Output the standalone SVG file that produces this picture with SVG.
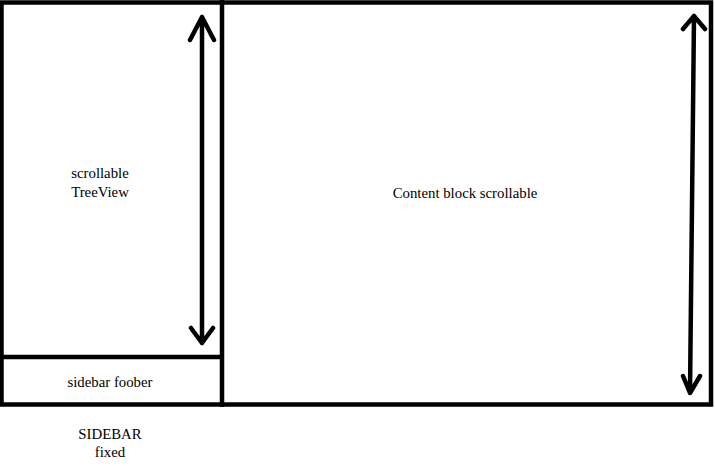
<svg xmlns="http://www.w3.org/2000/svg" width="715" height="466" viewBox="0 0 715 466">
<style>
.frame{fill:none;stroke:#000;stroke-width:4.5}
.line{stroke:#000;stroke-width:4.5;fill:none}
.arrow{stroke:#000;stroke-width:4.5;fill:none;stroke-linecap:round;stroke-linejoin:round}
text{font-family:"Liberation Serif","Times New Roman",serif;font-size:14.8px;fill:#000;text-anchor:middle}
</style>
<rect width="715" height="466" fill="#fff"/>
<g id="layout">
<rect class="frame" x="1.5" y="2.5" width="709.5" height="402"/>
</g>
<g id="sidebar">
<line class="line" x1="222" y1="0" x2="222" y2="407"/>
<text x="110" y="439">SIDEBAR</text>
<text x="110" y="457">fixed</text>
</g>
<g id="treeview">
<text x="100" y="178">scrollable</text>
<text x="100" y="197">TreeView</text>
</g>
<g id="sidebar-foober">
<line class="line" x1="0" y1="357" x2="222" y2="357"/>
<text x="110" y="387">sidebar foober</text>
</g>
<g id="content">
<text x="465" y="198">Content block scrollable</text>
</g>
<g id="connectors">
<path class="arrow" d="M202 17 L202 343 M190 40 L202 17 L214 40 M191 328 L202 343 L213 328"/>
<path class="arrow" d="M694 16 L690 393 M683 29 L694 16 L705 29 M683 376 L690 393 L700 376"/>
</g>
</svg>
